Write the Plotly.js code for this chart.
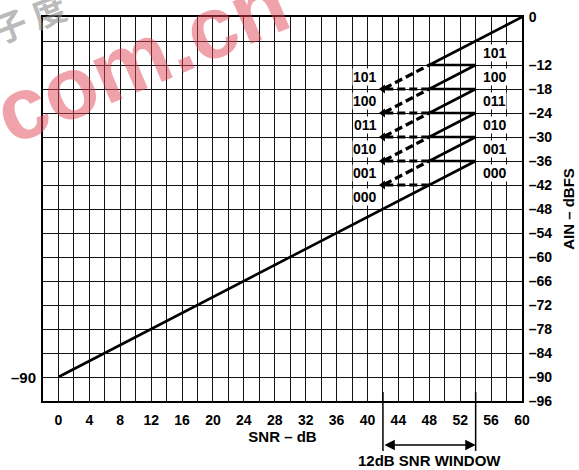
<!DOCTYPE html>
<html>
<head>
<meta charset="utf-8">
<script src="https://cdn.plot.ly/plotly-3.0.1.min.js"></script>
<style>html,body{margin:0;padding:0;background:#fff;}#chart{width:579px;height:470px;}</style>
</head>
<body>
<div id="chart"></div>
<script>
// Solid transfer curve (SNR dB vs AIN dBFS), including the gain-range zigzag
var mainSNR = [0, 48, 54, 48, 54, 48, 54, 48, 54, 48, 54, 48, 60];
var mainAIN = [-90, -42, -36, -36, -30, -30, -24, -24, -18, -18, -12, -12, 0];

// Dashed (hysteresis) segments
var dashSNR = [48, 42, 48, null, 48, 42, 48, null, 48, 42, 48, null, 48, 42, 48, null, 48, 42, 48];
var dashAIN = [-18, -18, -12, null, -24, -24, -18, null, -30, -30, -24, null, -36, -36, -30, null, -42, -42, -36];

// Arrow-tip points at the left ends of the dashed segments
var tipSNR = [42, 42, 42, 42, 42];
var tipAIN = [-18, -24, -30, -36, -42];

// Gain code labels
var leftCodes = ['101', '100', '011', '010', '001', '000'];
var leftCodeAIN = [-15, -21, -27, -33, -39, -45];
var leftCodeSNR = 39.7;
var rightCodes = ['101', '100', '011', '010', '001', '000'];
var rightCodeAIN = [-9, -15, -21, -27, -33, -39];
var rightCodeSNR = 56.5;

// Axis ticks
var xTickVals = [];
var xTickText = [];
for (var v = 0; v <= 60; v += 2) { xTickVals.push(v); xTickText.push(v % 4 === 0 ? String(v) : ''); }
var yTickVals = [0, -6, -12, -18, -24, -30, -36, -42, -48, -54, -60, -66, -72, -78, -84, -90, -96];
var yTickText = ['0', '', '–12', '–18', '–24', '–30', '–36', '–42', '–48', '–54', '–60', '–66', '–72', '–78', '–84', '–90', '–96'];

// SNR window
var windowStart = 42, windowEnd = 54;

var FONT = 'Liberation Sans, Arial, Helvetica, sans-serif';

var traces = [
  {x: mainSNR, y: mainAIN, mode: 'lines', line: {color: '#000', width: 2.6}, hoverinfo: 'skip', cliponaxis: false},
  {x: dashSNR, y: dashAIN, mode: 'lines', connectgaps: false, line: {color: '#000', width: 3.2, dash: '8px,4px'}, hoverinfo: 'skip'},
  {x: tipSNR, y: tipAIN, mode: 'markers', marker: {symbol: 'triangle-left', size: 8, color: '#000'}, hoverinfo: 'skip'}
];

var annotations = [];
// watermark (drawn first so it sits beneath the chart text)
annotations.push({x: 0.205, y: 0.895, xref: 'paper', yref: 'paper', xanchor: 'center', yanchor: 'middle', text: 'com.cn', showarrow: false, textangle: -23,
  font: {family: 'Liberation Sans, Arial, sans-serif', size: 88, color: 'rgba(225,70,85,0.5)', weight: 'bold'}});
annotations.push({x: -0.03, y: 1.0, xref: 'paper', yref: 'paper', xanchor: 'center', yanchor: 'middle', text: '子 度', showarrow: false, textangle: -21,
  font: {family: 'Noto Sans CJK SC', size: 34, color: 'rgba(140,140,140,0.6)', weight: 'bold'}});
for (var i = 0; i < leftCodes.length; i++) {
  annotations.push({x: leftCodeSNR, y: leftCodeAIN[i], xref: 'x', yref: 'y', text: leftCodes[i], showarrow: false,
    font: {family: FONT, size: 14, color: '#000', weight: 'bold'}, bgcolor: '#fff', borderpad: 0});
}
for (var j = 0; j < rightCodes.length; j++) {
  annotations.push({x: rightCodeSNR, y: rightCodeAIN[j], xref: 'x', yref: 'y', text: rightCodes[j], showarrow: false,
    font: {family: FONT, size: 14, color: '#000', weight: 'bold'}, bgcolor: '#fff', borderpad: 0});
}
annotations.push({x: -2, y: -90, xref: 'x', yref: 'y', xanchor: 'right', xshift: -5, text: '–90', showarrow: false,
  font: {family: FONT, size: 15, color: '#000', weight: 'bold'}});
annotations.push({x: windowEnd, y: -0.1146, xref: 'x', yref: 'paper', ax: windowStart, axref: 'x', ay: 0, ayref: 'pixel',
  text: '', showarrow: true, arrowside: 'end+start', arrowhead: 2, arrowsize: 1.3, arrowwidth: 1.6, arrowcolor: '#000'});
annotations.push({x: (windowStart + windowEnd) / 2, y: -0.156, xref: 'x', yref: 'paper', xanchor: 'center', yanchor: 'middle',
  text: '12dB SNR WINDOW', showarrow: false, font: {family: FONT, size: 15, color: '#000', weight: 'bold'}});

var shapes = [
  {type: 'line', xref: 'x', yref: 'paper', x0: windowStart, x1: windowStart, y0: 0.0234, y1: -0.13, line: {color: '#000', width: 1.5}},
  {type: 'line', xref: 'x', yref: 'paper', x0: windowEnd, x1: windowEnd, y0: 0.0234, y1: -0.13, line: {color: '#000', width: 1.5}}
];

var layout = {
  width: 579, height: 470,
  margin: {l: 43, r: 57, t: 17, b: 69, pad: 0},
  paper_bgcolor: '#fff', plot_bgcolor: '#fff',
  showlegend: false,
  font: {family: FONT, color: '#000'},
  xaxis: {
    range: [-2, 60], tickvals: xTickVals, ticktext: xTickText, ticks: '', ticklabelstandoff: 5,
    showgrid: true, gridcolor: '#111', gridwidth: 1, zeroline: false,
    showline: true, linecolor: '#000', linewidth: 2, mirror: true,
    tickfont: {family: FONT, size: 14, color: '#000', weight: 'bold'},
    title: {text: 'SNR – dB', font: {family: FONT, size: 15, color: '#000', weight: 'bold'}, standoff: 2}
  },
  yaxis: {
    range: [-96, 0], side: 'right', tickvals: yTickVals, ticktext: yTickText, ticks: '', ticklabelstandoff: 2,
    showgrid: true, gridcolor: '#111', gridwidth: 1, zeroline: false,
    showline: true, linecolor: '#000', linewidth: 2, mirror: true,
    tickfont: {family: FONT, size: 14, color: '#000', weight: 'bold'},
    title: {text: 'AIN – dBFS', font: {family: FONT, size: 15, color: '#000', weight: 'bold'}, standoff: 12}
  },
  annotations: annotations,
  shapes: shapes
};

Plotly.newPlot('chart', traces, layout, {staticPlot: true, displayModeBar: false});
</script>
</body>
</html>
